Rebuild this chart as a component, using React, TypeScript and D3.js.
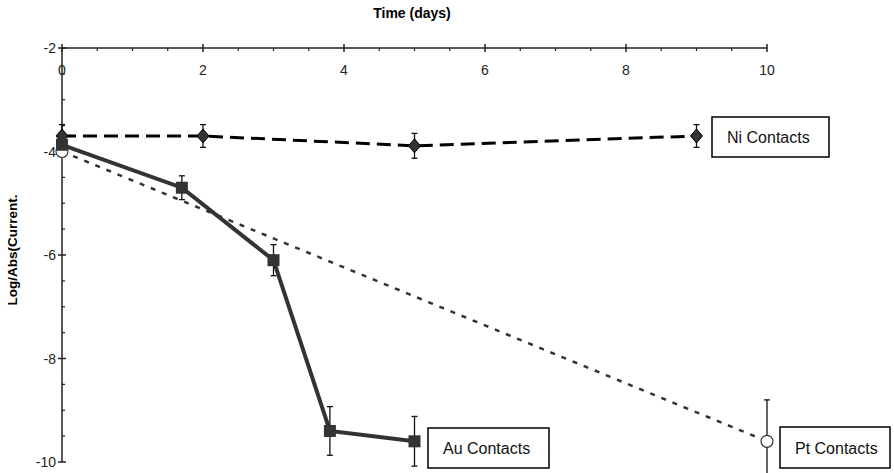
import React from "react";
import * as d3 from "d3";

const niX = [0, 2, 5, 9];
const niY = [-3.7, -3.7, -3.89, -3.7];
const niErr = [0.22, 0.22, 0.24, 0.22];

const auX = [0, 1.7, 3, 3.8, 5];
const auY = [-3.87, -4.7, -6.1, -9.4, -9.6];
const auErr = [0, 0.23, 0.3, 0.47, 0.48];

const ptX = [0, 10];
const ptY = [-4.0, -9.6];
const ptErr = [0, 0.8];

const xTicks = [0, 2, 4, 6, 8, 10];
const yTicks = [-2, -4, -6, -8, -10];

const labels = [
  { text: "Ni Contacts", x: 712, y: 117, w: 117, h: 40 },
  { text: "Au Contacts", x: 428, y: 428, w: 121, h: 40 },
  { text: "Pt Contacts", x: 780, y: 427, w: 110, h: 41 },
];

export default function App() {
  const W = 894, H = 473;
  const x = d3.scaleLinear().domain([0, 10]).range([62, 767]);
  const y = d3.scaleLinear().domain([-2, -10]).range([48, 462]);
  const font = "Liberation Sans, Arial, Helvetica, sans-serif";
  const line = d3.line<number>().x((d: any) => x(d[0])).y((d: any) => y(d[1]));
  const pts = (xs: number[], ys: number[]) => xs.map((v, i) => [v, ys[i]]) as any;

  const minorX = d3.range(0, 10.01, 0.5).filter((v) => v % 2 !== 0);
  const minorY = d3.range(-2, -10.01, -0.5).filter((v) => v % 2 !== 0);

  const errBars = (xs: number[], ys: number[], es: number[], key: string) =>
    xs.map((v, i) =>
      es[i] > 0 ? (
        <g key={key + i} stroke="#111" strokeWidth={1.3}>
          <line x1={x(v)} x2={x(v)} y1={y(ys[i] + es[i])} y2={y(ys[i] - es[i])} />
          <line x1={x(v) - 3} x2={x(v) + 3} y1={y(ys[i] + es[i])} y2={y(ys[i] + es[i])} />
          <line x1={x(v) - 3} x2={x(v) + 3} y1={y(ys[i] - es[i])} y2={y(ys[i] - es[i])} />
        </g>
      ) : null
    );

  return (
    <svg width={W} height={H} style={{ position: "absolute", left: 0, top: 0 }} fontFamily={font}>
      <rect width={W} height={H} fill="#fff" />
      <text x={412} y={18} textAnchor="middle" fontSize={14} fontWeight="bold">Time (days)</text>
      <text transform={`translate(17,250) rotate(-90)`} textAnchor="middle" fontSize={13.5} fontWeight="bold">Log/Abs(Current.</text>

      {/* axes */}
      <g stroke="#222" strokeWidth={1.5}>
        <line x1={x(0)} x2={x(10)} y1={y(-2)} y2={y(-2)} />
        <line x1={x(0)} x2={x(0)} y1={y(-2)} y2={y(-10)} />
        {xTicks.map((t) => (
          <line key={"xt" + t} x1={x(t)} x2={x(t)} y1={y(-2) - 4} y2={y(-2) + 4} />
        ))}
        {minorX.map((t) => (
          <line key={"xm" + t} x1={x(t)} x2={x(t)} y1={y(-2)} y2={y(-2) + 3} strokeWidth={1.2} />
        ))}
        {yTicks.map((t) => (
          <line key={"yt" + t} x1={x(0) - 4} x2={x(0) + 4} y1={y(t)} y2={y(t)} />
        ))}
        {minorY.map((t) => (
          <line key={"ym" + t} x1={x(0)} x2={x(0) + 3} y1={y(t)} y2={y(t)} strokeWidth={1.2} />
        ))}
      </g>
      {xTicks.map((t) => (
        <text key={"xl" + t} x={x(t)} y={y(-2) + 27} textAnchor="middle" fontSize={14} fill="#222">{t}</text>
      ))}
      {yTicks.map((t) => (
        <text key={"yl" + t} x={x(0) - 6} y={y(t) + 5} textAnchor="end" fontSize={14} fill="#222">{t}</text>
      ))}

      {/* Ni series */}
      <path d={line(pts(niX, niY)) as string} fill="none" stroke="#000" strokeWidth={3} strokeDasharray="14,7" />
      {errBars(niX, niY, niErr, "ni")}
      {niX.map((v, i) => {
        const cx = x(v), cy = y(niY[i]);
        return <path key={"nd" + i} d={`M${cx},${cy - 7}L${cx + 6},${cy}L${cx},${cy + 7}L${cx - 6},${cy}Z`} fill="#333" stroke="#000" strokeWidth={1} />;
      })}

      {/* Pt series */}
      <path d={line(pts(ptX, ptY)) as string} fill="none" stroke="#333" strokeWidth={2.5} strokeDasharray="5,7" />
      {errBars(ptX, ptY, ptErr, "pt")}
      {ptX.map((v, i) => (
        <circle key={"pc" + i} cx={x(v)} cy={y(ptY[i])} r={6} fill="#fff" stroke="#333" strokeWidth={1.2} />
      ))}

      {/* Au series */}
      <path d={line(pts(auX, auY)) as string} fill="none" stroke="#333" strokeWidth={4} />
      {errBars(auX, auY, auErr, "au")}
      {auX.map((v, i) => (
        <rect key={"as" + i} x={x(v) - 6} y={y(auY[i]) - 6} width={12} height={12} fill="#333" />
      ))}

      {labels.map((l) => (
        <g key={l.text}>
          <rect x={l.x} y={l.y} width={l.w} height={l.h} fill="#fff" stroke="#000" strokeWidth={1.5} />
          <text x={l.x + 15} y={l.y + l.h / 2 + 6} fontSize={16} fill="#111">{l.text}</text>
        </g>
      ))}
    </svg>
  );
}
